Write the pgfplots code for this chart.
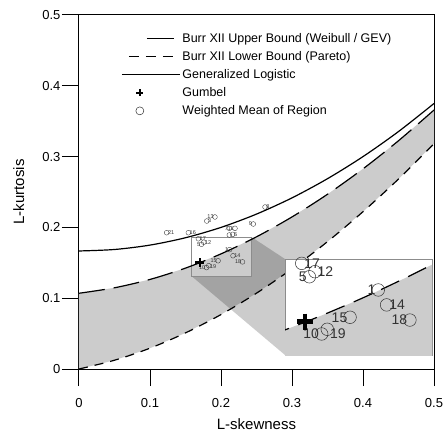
\documentclass[border=0pt]{standalone}
\usepackage{fontspec}
\setmainfont{Liberation Sans}
\usepackage{pgfplots}
\pgfplotsset{compat=1.18}

% Hosking L-moment ratio curves (tau3, tau4)
\pgfplotstableread{
x y
0    0.1070
0.05 0.1147
0.10 0.1265
0.15 0.1425
0.20 0.1626
0.25 0.1867
0.30 0.2148
0.35 0.2468
0.40 0.2827
0.45 0.3224
0.50 0.3658
}\tabUpper
\pgfplotstableread{
x y
0    0.0
0.05 0.0124
0.10 0.0294
0.15 0.0510
0.20 0.0769
0.25 0.1071
0.30 0.1415
0.35 0.1799
0.40 0.2222
0.45 0.2683
0.50 0.3182
}\tabLower
\pgfplotstableread{
x y
0    0.1667
0.05 0.1688
0.10 0.1750
0.15 0.1854
0.20 0.2000
0.25 0.2188
0.30 0.2417
0.35 0.2688
0.40 0.3000
0.45 0.3354
0.50 0.3750
}\tabGlo
% upper bound, finer, for the zoomed inset
\pgfplotstableread{
x y
0.15 0.1425
0.16 0.1462
0.17 0.1501
0.18 0.1541
0.19 0.1583
0.20 0.1626
0.21 0.1671
0.22 0.1718
0.23 0.1766
0.24 0.1816
0.25 0.1867
}\tabUpperZoom
% weighted regional means, label to the right
\pgfplotstableread{
x y lab
0.1235 0.1925 21
0.1540 0.1925 16
0.1800 0.2090 3
0.2165 0.1902 6
0.2620 0.2288 8
0.1681 0.1839 17
0.1757 0.1791 12
0.2169 0.1600 14
}\ptsE
% label to the right, a bit lower
\pgfplotstableread{
x y lab
0.1828 0.1460 19
}\ptsEl
% label to the left
\pgfplotstableread{
x y lab
0.1915 0.2147 13
0.2117 0.1987 7
0.2197 0.1987 11
0.2455 0.2048 9
0.1725 0.1762 5
0.2121 0.1686 1
0.2303 0.1513 18
0.1959 0.1529 15
0.1796 0.1433 10
}\ptsW

\pgfplotsset{
  longdash/.style={dash pattern=on 26pt off 9pt},
  shortdash/.style={dash pattern=on 9pt off 7pt},
  meanpt/.style={only marks, mark=o, mark size=2.4pt,
    mark options={line width=0.35pt, black!80}},
  bigpt/.style={only marks, mark=o, mark size=6.3pt,
    mark options={line width=0.5pt, black!80}},
}

\begin{document}
\begin{tikzpicture}
% page = reference proportions, axis box at (0,0)-(355pt,354pt)
\useasboundingbox (-79pt,-64pt) rectangle (367pt,369pt);
\begin{axis}[
  name=main, at={(0pt,0pt)}, anchor=south west,
  scale only axis, width=355pt, height=354pt,
  xmin=0, xmax=0.5, ymin=0, ymax=0.5,
  xtick={0,0.1,0.2,0.3,0.4,0.5}, xticklabels={0,0.1,0.2,0.3,0.4,0.5},
  ytick={0,0.1,0.2,0.3,0.4,0.5}, yticklabels={0,0.1,0.2,0.3,0.4,0.5},
  tick pos=left, tick align=outside, major tick length=17pt,
  tick style={line width=1pt, black},
  axis line style={line width=1pt},
  tick label style={font=\fontsize{13}{15}\selectfont},
  xticklabel style={yshift=-9pt},
  yticklabel style={xshift=2pt},
  label style={font=\fontsize{15}{17}\selectfont},
  xlabel={L-skewness}, ylabel={L-kurtosis},
  xlabel style={at={(axis description cs:0.5,-0.155)}, anchor=center},
  ylabel style={at={(axis description cs:-0.17,0.5)}, anchor=center},
  legend style={font=\fontsize{12.5}{15}\selectfont, draw=none, fill=none,
    at={(rel axis cs:0.11,0.96)}, anchor=north west, row sep=3.5pt},
  legend cell align=left,
]
% feasible Burr XII region
\addplot[fill=black!20, draw=none, forget plot] coordinates {
  (0,0.1070) (0.05,0.1147) (0.10,0.1265) (0.15,0.1425) (0.20,0.1626)
  (0.25,0.1867) (0.30,0.2148) (0.35,0.2468) (0.40,0.2827) (0.45,0.3224)
  (0.50,0.3658) (0.50,0.3182) (0.45,0.2683) (0.40,0.2222) (0.35,0.1799)
  (0.30,0.1415) (0.25,0.1071) (0.20,0.0769) (0.15,0.0510) (0.10,0.0294)
  (0.05,0.0124) (0,0)
} -- cycle;
% zoom funnel towards the inset
\addplot[fill=black, fill opacity=0.2, draw=none, forget plot] coordinates {
  (0.243,0.1864) (0.2901,0.1554) (0.2901,0.0198) (0.1585,0.1312) (0.243,0.1312)
} -- cycle;
\addplot[draw=black!45, line width=0.5pt, forget plot] coordinates {
  (0.1585,0.1312) (0.243,0.1312) (0.243,0.1864) (0.1585,0.1864)
} -- cycle;

\addplot[black, line width=1.2pt, longdash, smooth, forget plot] table {\tabUpper};
\addplot[black, line width=1.2pt, shortdash, smooth, forget plot] table {\tabLower};
\addplot[black, line width=1.2pt, smooth, forget plot] table {\tabGlo};

\addplot[meanpt, nodes near coords, point meta=explicit symbolic,
  every node near coord/.append style={anchor=west, xshift=1.2pt, inner sep=0pt,
    font=\fontsize{5.5}{6}\selectfont}, forget plot] table[meta=lab] {\ptsE};
\addplot[meanpt, nodes near coords, point meta=explicit symbolic,
  every node near coord/.append style={anchor=west, xshift=1.2pt, yshift=-1pt,
    inner sep=0pt, font=\fontsize{5.5}{6}\selectfont}, forget plot]
  table[meta=lab] {\ptsEl};
\addplot[meanpt, nodes near coords, point meta=explicit symbolic,
  every node near coord/.append style={anchor=east, xshift=-1.2pt, inner sep=0pt,
    font=\fontsize{5.5}{6}\selectfont}, forget plot] table[meta=lab] {\ptsW};
\addplot[meanpt, forget plot] coordinates {(0.2117,0.1893)};
\addplot[only marks, mark=+, mark size=4.5pt, line width=2.4pt, forget plot]
  coordinates {(0.1700,0.1504)};

\addlegendimage{black, line width=1.2pt, legend image code/.code={
  \path[draw=none] (0pt,0pt) -- (55pt,0pt); \draw (23pt,0pt) -- (50pt,0pt);}}
\addlegendentry{Burr XII Upper Bound (Weibull / GEV)}
\addlegendimage{black, line width=1.2pt, legend image code/.code={
  \path[draw=none] (0pt,0pt) -- (55pt,0pt);
  \draw[dash pattern=on 10pt off 7pt] (5pt,0pt) -- (50pt,0pt);}}
\addlegendentry{Burr XII Lower Bound (Pareto)}
\addlegendimage{black, line width=1.2pt, legend image code/.code={
  \draw (-2pt,0pt) -- (56pt,0pt);}}
\addlegendentry{Generalized Logistic}
\addlegendimage{black, line width=2.2pt, mark=+, mark size=3.5pt, only marks,
  legend image code/.code={\path[draw=none] (0pt,0pt) -- (55pt,0pt);
  \draw[draw=none] plot coordinates {(16pt,0pt)};}}
\addlegendentry{Gumbel}
\addlegendimage{black!80, line width=0.5pt, mark=o, mark size=4pt, only marks,
  legend image code/.code={\path[draw=none] (0pt,0pt) -- (55pt,0pt);
  \draw[draw=none] plot coordinates {(16pt,0pt)};}}
\addlegendentry{Weighted Mean of Region}
\end{axis}

% magnified inset of the cluster
\begin{axis}[
  at={(206pt,14pt)}, anchor=south west,
  scale only axis, width=147pt, height=96pt,
  xmin=0.1585, xmax=0.243, ymin=0.1312, ymax=0.1864,
  xtick=\empty, ytick=\empty,
  axis line style={draw=black!45, line width=0.5pt},
  axis background/.style={fill=white},
]
\addplot[fill=black!20, draw=none] coordinates {
  (0.15,0.1425) (0.16,0.1462) (0.17,0.1501) (0.18,0.1541) (0.19,0.1583)
  (0.20,0.1626) (0.21,0.1671) (0.22,0.1718) (0.23,0.1766) (0.24,0.1816)
  (0.25,0.1867) (0.25,0.12) (0.15,0.12)
} -- cycle;
\addplot[black, line width=1.2pt, dash pattern=on 20pt off 10pt, smooth] table {\tabUpperZoom};
\addplot[bigpt, nodes near coords, point meta=explicit symbolic,
  every node near coord/.append style={anchor=west, xshift=2.5pt, inner sep=0pt,
    font=\fontsize{14}{16}\selectfont}] table[meta=lab] {\ptsE};
\addplot[bigpt, nodes near coords, point meta=explicit symbolic,
  every node near coord/.append style={anchor=west, xshift=2.5pt, yshift=-4pt,
    inner sep=0pt, font=\fontsize{14}{16}\selectfont}] table[meta=lab] {\ptsEl};
\addplot[bigpt, nodes near coords, point meta=explicit symbolic,
  every node near coord/.append style={anchor=east, xshift=-2.5pt, inner sep=0pt,
    font=\fontsize{14}{16}\selectfont}] table[meta=lab] {\ptsW};
\addplot[only marks, mark=+, mark size=8pt, line width=4.5pt]
  coordinates {(0.1700,0.1504)};
\end{axis}
\end{tikzpicture}
\end{document}
